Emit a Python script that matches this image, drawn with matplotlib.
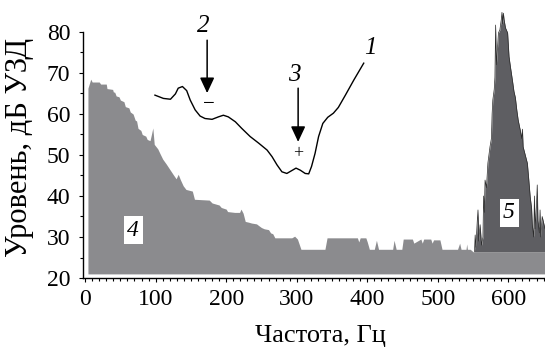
import numpy as np
import matplotlib
matplotlib.use("Agg")
from matplotlib import pyplot as plt
from matplotlib.ticker import FixedLocator

# curve 1 - measured spectrum
f1 = [99, 111, 121, 128, 132, 138, 144, 149, 156, 163, 170, 180, 189, 196, 203,
      213, 222, 234, 246, 258, 265, 272, 279, 286, 293, 299, 305, 312, 317, 321,
      326, 331, 337, 344, 352, 359, 369, 381, 395]
L1 = [64.6, 63.8, 63.6, 64.9, 66.3, 66.7, 65.7, 63.4, 61.0, 59.5, 58.9, 58.7, 59.3, 59.7, 59.3,
      58.1, 56.5, 54.5, 52.9, 51.2, 49.6, 47.6, 45.9, 45.5, 46.2, 46.8, 46.3, 45.5, 45.4, 47.2,
      50.4, 54.5, 57.7, 59.2, 60.2, 61.6, 64.6, 68.3, 72.4]

# curve 4 - background noise
f4 = [4, 8, 10, 20, 22, 30, 31, 39, 40, 42, 44, 48, 50, 55, 57, 62, 64, 68, 71, 73,
      75, 79, 81, 86, 88, 92, 94, 96, 98, 103, 106, 110, 115, 120, 125, 129, 132, 135,
      139, 143, 152, 155, 176, 180, 190, 193, 200, 202, 212, 219, 221, 224, 227, 232,
      236, 243, 246, 250, 254, 260, 263, 266, 269, 293, 297, 301, 306, 340, 343, 386,
      388, 390, 398, 400, 403, 410, 413, 416, 436, 438, 441, 449, 451, 464, 466, 476,
      478, 480, 490, 492, 494, 503, 506, 528, 531, 533, 535, 540, 541, 542, 546, 550, 652]
L4 = [66.3, 68.5, 67.8, 67.8, 67.3, 67.3, 66.2, 66.0, 65.4, 65.3, 64.4, 64.2, 63.4, 63.0, 61.8, 61.5, 60.5, 60.0, 58.5, 58.3,
      56.5, 56.0, 55.0, 54.6, 53.8, 53.5, 55.0, 56.6, 52.6, 51.5, 50.4, 49.0, 47.8, 46.5, 45.2, 44.2, 45.3, 44.0,
      42.5, 41.6, 41.2, 39.2, 39.0, 38.3, 37.8, 37.2, 36.8, 36.2, 36.0, 36.0, 36.8, 35.8, 33.8, 33.6,
      33.4, 33.2, 32.8, 32.3, 32.0, 31.8, 31.0, 30.8, 29.8, 29.8, 30.2, 29.5, 27.0, 27.0, 29.8, 29.8,
      28.8, 29.8, 29.8, 28.8, 27.0, 27.0, 29.2, 27.0, 27.0, 29.2, 27.0, 27.0, 29.5, 29.5, 28.5, 29.5,
      28.5, 29.5, 29.5, 28.5, 29.3, 29.3, 27.0, 27.0, 28.5, 27.0, 27.0, 27.0, 28.3, 27.0, 27.0, 26.4, 26.4]

# curve 5 - tonal noise peak
f5 = [552, 553, 554, 556, 557, 558, 560, 562, 564, 565, 566, 567, 569, 571, 574, 576, 577, 578,
      580, 581, 582, 583, 585, 586, 588, 590, 591, 592, 593, 594, 596, 599, 601, 603, 606, 608,
      610, 612, 614, 617, 619, 620, 621, 624, 627, 629, 631, 633, 634, 636, 637, 638, 640, 641,
      642, 644, 645, 646, 648, 652]
L5 = [26.4, 30.5, 27.5, 34.0, 36.6, 29.0, 33.0, 28.0, 30.0, 40.0, 36.0, 43.9, 42.0, 48.0, 52.0, 54.0, 60.0, 63.4,
      66.0, 69.0, 81.7, 72.0, 77.0, 79.8, 80.5, 83.0, 84.8, 82.0, 84.6, 83.0, 81.0, 79.8, 74.0, 71.5, 68.0, 65.5,
      64.0, 61.0, 58.5, 56.0, 54.0, 56.3, 52.0, 50.0, 48.0, 44.0, 39.8, 37.0, 33.0, 30.0, 40.0, 32.0, 38.0, 42.7,
      34.0, 31.0, 36.6, 30.0, 35.0, 32.0]

xticks = [0, 100, 200, 300, 400, 500, 600]
yticks = [20, 30, 40, 50, 60, 70, 80]

plt.rcParams['font.family'] = ['Liberation Serif', 'DejaVu Serif']

fig = plt.figure(figsize=(5.45, 3.47), dpi=100)
ax = fig.add_axes([83 / 545, 69 / 347, 462 / 545, 270.6 / 347])

ax.fill_between(f4, 21, L4, color='#8b8b8e', lw=0)
ax.fill_between(f5, 26.4, L5, color='#5e5e62', lw=0)
ax.plot(f5, L5, color='#2a2a2a', lw=0.5)
ax.plot(f1, L1, color='black', lw=1.0)

arrow = dict(arrowstyle='-|>,head_length=0.47,head_width=0.22', mutation_scale=20,
             color='black', lw=1.1, shrinkA=0, shrinkB=0)
ax.annotate('', xy=(173, 65.1), xytext=(173, 78), arrowprops=arrow)
ax.annotate('', xy=(302, 53.2), xytext=(302, 66.3), arrowprops=arrow)

ax.text(167, 81.5, '2', fontsize=18, style='italic', ha='center', va='center')
ax.text(296, 69.6, '3', fontsize=18, style='italic', ha='center', va='center')
ax.text(404, 76, '1', fontsize=18, style='italic', ha='center', va='center')
ax.text(176, 62.2, '−', fontsize=15, ha='center', va='center')
ax.text(302, 50.3, '+', fontsize=13, ha='center', va='center')
ax.text(68, 31.7, '4', fontsize=17, style='italic', ha='center', va='center',
        bbox=dict(facecolor='white', edgecolor='none', pad=2.5))
ax.text(601, 35.9, '5', fontsize=17, style='italic', ha='center', va='center',
        bbox=dict(facecolor='white', edgecolor='none', pad=2.5))

ax.set_xlim(-3, 652)
ax.set_ylim(20, 86)
ax.set_xticks(xticks)
ax.set_yticks(yticks)
ax.xaxis.set_minor_locator(FixedLocator(range(0, 651, 10)))
ax.yaxis.set_minor_locator(FixedLocator(range(20, 81, 5)))
ax.tick_params(axis='both', which='major', labelsize=17, direction='out', length=3, width=0.8)
ax.tick_params(axis='y', which='major', pad=6)
ax.tick_params(axis='x', which='major', pad=5)
ax.tick_params(axis='both', which='minor', direction='out', length=2, width=0.8)

for s in ['top', 'right']:
    ax.spines[s].set_visible(False)
ax.spines['left'].set_bounds(20, 80)
ax.spines['left'].set_linewidth(1.0)
ax.spines['bottom'].set_linewidth(1.0)

ax.set_xlabel('Частота, Гц', fontsize=19)
ax.xaxis.set_label_coords(0.515, -0.175)
ax.set_ylabel('Уровень, дБ УЗД', fontsize=22)
ax.yaxis.set_label_coords(-0.106, 0.484)

fig.savefig('out.png', dpi=100)
